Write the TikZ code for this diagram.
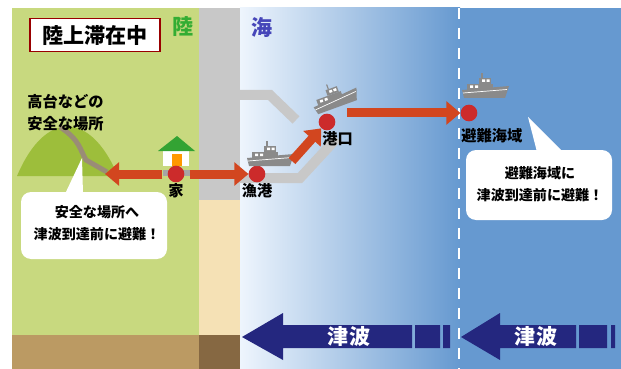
\documentclass[tikz,border=0pt]{standalone}
\usepackage{fontspec}
\setmainfont{Noto Sans CJK JP}
\usetikzlibrary{arrows.meta, positioning}

\definecolor{land}{HTML}{C8D97F}
\definecolor{hill}{HTML}{9DBE3B}
\definecolor{wall}{HTML}{C8C8C8}
\definecolor{sand}{HTML}{F5E1B5}
\definecolor{soil}{HTML}{BB9A63}
\definecolor{darksoil}{HTML}{866842}
\definecolor{seapale}{HTML}{EEF5FD}
\definecolor{seadeep}{HTML}{6699D0}
\definecolor{evacred}{HTML}{D2461F}
\definecolor{dotred}{HTML}{CC2B2B}
\definecolor{wave}{HTML}{24277F}
\definecolor{boatgray}{HTML}{8A8A8A}
\definecolor{trail}{HTML}{9A8C76}

\tikzset{
spot/.style={circle, fill=dotred, minimum size=0.5cm, inner sep=0pt}, % red markers for the places
lbl/.style={font=\bfseries\fontsize{13}{15}\selectfont, inner sep=1pt}, % place names
bubble/.style={fill=white, rounded corners=0.3cm}, % speech bubbles
talk/.style={font=\bfseries\fontsize{12}{19}\selectfont, align=center}, % text in the bubbles
evac/.style={draw=evacred, line width=0.27cm, -{Triangle[length=0.42cm, width=0.68cm]}}, % escape routes
breakwater/.style={draw=wall, line width=0.3cm}, % harbour walls
boat/.pic={
  \fill[boatgray] (-23,-8) -- (24,-12) -- (20,0) -- (-21,0) -- cycle;
  \draw[white, line width=0.6pt] (-22,-5) -- (22,-8.5);
  \fill[boatgray] (-18,-8) rectangle (8,-14);
  \fill[boatgray] (-6,-14) rectangle (6,-20);
  \draw[boatgray, line width=1pt] (-3,-20) -- (-3,-25);
  \fill[white] (-15,-12.5) rectangle (-12,-10) (-10,-12.5) rectangle (-7,-10)
               (-3,-18.5) rectangle (0,-16) (1.5,-18.5) rectangle (4.5,-16);
}
}

\begin{document}
\begin{tikzpicture}[x=0.03cm, y=-0.03cm]
    \useasboundingbox (0,0) rectangle (621,369);

    % ground and sea
    \fill[land] (12,8) rectangle (199,335);
    \fill[soil] (12,335) rectangle (199,369);
    \fill[wall] (199,8) rectangle (240,200);
    \fill[sand] (199,200) rectangle (240,335);
    \fill[darksoil] (199,335) rectangle (240,369);
    \shade[left color=seapale, right color=seadeep] (240,8) rectangle (460,369);
    \fill[seadeep] (460,8) rectangle (621,369);
    \draw[white, line width=2pt, dash pattern=on 0.33cm off 0.27cm] (459,8) -- (459,369);

    % harbour
    \draw[breakwater] (240,95) -- (270,95) -- (296,120);
    \draw[breakwater] (240,178) -- (300,178) -- (337,138);

    % hill with its trail
    \fill[hill] (17,176) .. controls (45,110) and (90,110) .. (118,176) -- cycle;
    \draw[trail, line width=0.15cm] (60,127) .. controls (80,140) and (80,150) .. (86,160) -- (107,172);

    % house
    \fill[white] (163,150) rectangle (189,166);
    \fill[orange!80!yellow] (172,154) rectangle (182,166);
    \fill[green!55!black!80] (158,151) -- (177,136) -- (195,151) -- cycle;

    \node[draw=red!60!black, line width=1.2pt, fill=white, minimum width=3.9cm, minimum height=1cm,
          font=\bfseries\fontsize{18}{20}\selectfont] (stay) at (95,35) {陸上滞在中};
    \node[font=\bfseries\fontsize{18}{20}\selectfont, text=green!60!black!80] (landtag) at (183,27) {陸};
    \node[font=\bfseries\fontsize{18}{20}\selectfont, text=blue!45!gray] (seatag) at (262,27) {海};

    \node[lbl, align=left, anchor=west, font=\bfseries\fontsize{13}{19}\selectfont] (high) at (26,113) {高台などの\\安全な場所};

    % places
    \fill[gray!70] (163,170) rectangle (190,176);
    \node[spot, label={[lbl]below:家}] (home) at (176,174) {};
    \node[spot, label={[lbl]below:漁港}] (port) at (257,174) {};
    \node[spot] (mouth) at (327,122) {};
    \node[lbl, anchor=north west] (mouthname) at (321,130) {港口};
    \node[spot] (refuge) at (469,113) {};
    \node[lbl, anchor=north west] (refugename) at (460,127) {避難海域};

    \pic at (270,166) {boat};
    \pic[rotate=20] at (338,107) {boat};
    \pic at (485,98) {boat};

    % escape routes
    \coordinate (hillfoot) at (105,174);
    \coordinate (climb) at (292,161);
    \coordinate (offing) at (347,113);
    \draw[evac, shorten <=0.15cm] (home) -- (hillfoot);
    \draw[evac, shorten <=0.15cm] (home) -- (port);
    \draw[evac] (climb) -- (mouth);
    \draw[evac] (offing) -- (refuge);

    % speech bubbles
    \fill[white] (65,194) -- (82,158) -- (83,194) -- cycle;
    \fill[bubble] (21,192) rectangle (167,259);
    \node[talk] (landsay) at (97,223) {安全な場所へ\\津波到達前に避難！};
    \fill[white] (528,117) -- (563,152) -- (537,152) -- cycle;
    \fill[bubble] (466,150) rectangle (612,220);
    \node[talk] (seasay) at (540,184) {避難海域に\\津波到達前に避難！};

    % incoming waves
    \fill[wave] (242,337) -- (283,313) -- (283,325) -- (412,325) -- (412,348) -- (283,348) -- (283,360) -- cycle;
    \fill[wave] (415,325) rectangle (440,348) (443,325) rectangle (450,348);
    \node[font=\bfseries\fontsize{18}{20}\selectfont, text=white] (wave1) at (349,336) {津波};
    \fill[wave] (461,337) -- (500,313) -- (500,325) -- (576,325) -- (576,348) -- (500,348) -- (500,360) -- cycle;
    \fill[wave] (579,325) rectangle (607,348) (611,325) rectangle (615,348);
    \node[font=\bfseries\fontsize{18}{20}\selectfont, text=white] (wave2) at (536,336) {津波};
\end{tikzpicture}
\end{document}
